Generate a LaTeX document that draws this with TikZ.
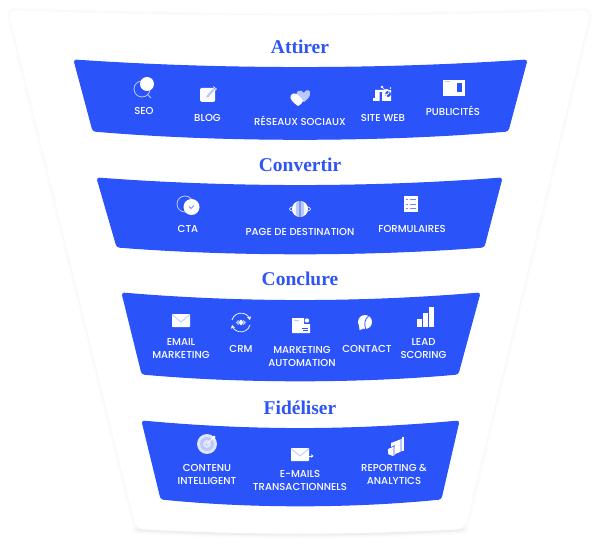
\documentclass[tikz,border=0pt]{standalone}
\usepackage{fontspec}
\usetikzlibrary{arrows.meta}
\setmainfont{Poppins Medium}
\newfontfamily\titlefont{Liberation Serif}
\definecolor{brand}{HTML}{2B53FA}
\definecolor{lightblue}{HTML}{B9C8FD}
\definecolor{titleblue}{HTML}{2F55F5}
\tikzset{
  band/.style={fill=brand,draw=brand,line width=1pt,line join=round,rounded corners=2.5pt},
  title/.style={font=\titlefont\bfseries\fontsize{19.5}{19.5}\selectfont,text=titleblue,inner sep=0pt,anchor=center},
  lab/.style={font=\fontsize{10.1}{13}\selectfont,text=white,inner sep=0pt,align=center,anchor=center},
  wf/.style={fill=white,draw=none},
  lf/.style={fill=lightblue,draw=none},
  wl/.style={draw=white,line width=.8pt,fill=none},
  ll/.style={draw=lightblue,line width=.8pt,fill=none},
  bl/.style={draw=brand,line width=.7pt,fill=none},
  bf/.style={fill=brand,draw=none}
}
\begin{document}
\begin{tikzpicture}[x=1pt,y=-1pt]
\useasboundingbox (0,0) rectangle (600,548);
% funnel card with faint shadow
\foreach \o/\w in {.006/6,.008/4,.01/2}{
 \draw[black,opacity=\o,line width=\w pt,line join=round,rounded corners=8pt]
  (8,10) .. controls (200,17) and (400,17) .. (591,10) -- (465,529) .. controls (355,535) and (245,535) .. (136,529) -- cycle;
}
\foreach \o/\w in {.012/8,.016/5,.02/2}{
 \draw[black,opacity=\o,line width=\w pt,line cap=round]
  (136,530) .. controls (245,536) and (355,536) .. (465,530);
}
\fill[white,rounded corners=8pt]
  (8,10) .. controls (200,17) and (400,17) .. (591,10) -- (465,529) .. controls (355,535) and (245,535) .. (136,529) -- cycle;
% bands
\draw[band] (74,60) .. controls (220,70) and (380,70) .. (527,60) -- (508,131) .. controls (380,142) and (220,142) .. (93,131) -- cycle;
\draw[band] (97,178) .. controls (230,188) and (370,188) .. (502,178) -- (484,247) .. controls (370,256) and (230,256) .. (117,247) -- cycle;
\draw[band] (122,293) .. controls (240,303) and (360,303) .. (480,293) -- (458,374) .. controls (360,383) and (240,383) .. (142,374) -- cycle;
\draw[band] (142,421) .. controls (250,431) and (350,431) .. (459,421) -- (441,499) .. controls (350,508) and (250,508) .. (161,499) -- cycle;
% titles
\node[title] (t1) at (300,47) {Attirer};
\node[title] (t2) at (300,165) {Convertir};
\node[title] (t3) at (300,279) {Conclure};
\node[title] (t4) at (300,408) {Fidéliser};
% labels
\node[lab] (seo) at (144,111) {SEO};
\node[lab] (blog) at (207.5,118) {BLOG};
\node[lab] (rs) at (300,121) {RÉSEAUX SOCIAUX};
\node[lab] (web) at (383,118) {SITE WEB};
\node[lab] (pub) at (453,111) {PUBLICITÉS};
\node[lab] (cta) at (188,229) {CTA};
\node[lab] (page) at (300,232) {PAGE DE DESTINATION};
\node[lab] (form) at (412,229) {FORMULAIRES};
\node[lab] (email) at (181,348.5) {EMAIL\\MARKETING};
\node[lab] (crm) at (241,349) {CRM};
\node[lab] (ma) at (302,356.5) {MARKETING\\AUTOMATION};
\node[lab] (contact) at (367,349) {CONTACT};
\node[lab] (lead) at (423.5,348.5) {LEAD\\SCORING};
\node[lab] (cont) at (207,474.5) {CONTENU\\INTELLIGENT};
\node[lab] (emt) at (300,480.5) {E-MAILS\\TRANSACTIONNELS};
\node[lab] (rep) at (394,474.5) {REPORTING \&\\ANALYTICS};
% SEO icon
\draw[ll] (142,89) circle (8);
\draw[ll] (148,95) -- (151,98);
\fill[white] (147,84) circle (7);
% Blog icon
\fill[wf,rounded corners=1.5pt] (200,88) rectangle (215,102);
\draw[lightblue,line width=2.2pt] (207,97) -- (214,89);
\draw[white,line width=.6pt] (213,86.5) -- (216.5,89) -- (214,91.5);
% Hearts icon
\fill[lf] (304,102) .. controls (297,97) and (295,93) .. (298,91) .. controls (300,89.5) and (303,91) .. (304,93) .. controls (305,90) and (309,89) .. (310,92) .. controls (311,96) and (307,100) .. (304,102) -- cycle;
\fill[wf] (298,106) .. controls (292,102) and (289,98) .. (291,95) .. controls (292,93) and (295,93) .. (296.5,94) .. controls (298,95) and (303,99) .. (303,101) .. controls (303,103) and (300,105) .. (298,106) -- cycle;
% Site web icon
\fill[wf] (375,101) -- (375,90) -- (391,90) -- (391,101) -- (382,101) -- (382,92) -- (379.5,92) -- (379.5,101) -- cycle;
\fill[wf] (373,98) rectangle (374.5,101);
\fill[bf] (388,94) circle (3);
\draw[wl] (386.5,92) circle (2.6);
\draw[wl,line width=.6pt] (385,90) -- (382,87) (386.5,94.6) -- (386.5,98);
\fill[white] (382,87) circle (1.3) (386.5,98) circle (1.3) (390.5,88) circle (.8);
% Publicites icon
\fill[wf] (443,80) rectangle (465,96);
\fill[bf] (457,83) rectangle (462,92);
\fill[lightblue] (445,81.5) rectangle (450,82.2);
% CTA icon
\draw[ll] (185,204) circle (8);
\fill[white] (191.5,207) circle (8);
\draw[bl,line cap=round] (189,206.5) -- (191,208.5) -- (194,205.5);
% Page de destination icon
\draw[wl,line width=.6pt] (300,209) ellipse (10.5 and 3.2);
\fill[wf] (300,209) circle (8);
\fill[lightblue] (297,201.8) .. controls (295,205) and (295,213) .. (297,216.2) -- (303,216.2) .. controls (305,213) and (305,205) .. (303,201.8) -- cycle;
\fill[brand!60!white] (299.3,201.2) rectangle (300.7,216.8);
% Formulaires icon
\fill[wf] (404,196) rectangle (418,212);
\foreach \yy in {199.5,204,208.5}{
  \draw[brand!70!white,line width=.4pt] (406,\yy) -- (408,\yy) (409.5,\yy) -- (416,\yy);
}
% Email icon
\fill[wf,rounded corners=.6pt] (172,314) rectangle (190,327);
\draw[lightblue,line width=.8pt] (172,314.5) -- (181,322) -- (190,314.5);
% CRM icon
\draw[wl,line width=.7pt,-{Stealth[length=3.5pt,width=4pt]}] (232,320) arc[start angle=195,end angle=345,radius=9.3];
\draw[wl,line width=.7pt,-{Stealth[length=3.5pt,width=4pt]}] (250,325) arc[start angle=15,end angle=165,radius=9.3];
\fill[wf] (241,319.5) -- (243.5,322.5) -- (241,325.5) -- (238.5,322.5) -- cycle;
\fill[lightblue] (236,322.5) -- (238.3,320) -- (239.3,320.8) -- (237.8,322.5) -- (239.3,324.2) -- (238.3,325) -- cycle;
\fill[lightblue] (246,322.5) -- (243.7,320) -- (242.7,320.8) -- (244.2,322.5) -- (242.7,324.2) -- (243.7,325) -- cycle;
% Marketing automation icon
\fill[wf] (292,318) -- (304,318) -- (304,324) -- (310,324) -- (310,333) -- (292,333) -- cycle;
\fill[white] (307,320.5) circle (2.2);
\fill[bf] (302,328) rectangle (308,329);
\fill[bf] (303,330.3) rectangle (308,331.3);
\fill[lightblue] (294,320) rectangle (299,320.7);
% Contact icon
\fill[wf] (365,322) circle (7);
\fill[wf] (359,325) -- (363,329) -- (359.5,330) -- cycle;
\draw[brand,line width=.8pt] (368.5,316) .. controls (365,319) and (364,323) .. (365.5,328.8);
% Lead scoring icon
\fill[wf] (417,319) rectangle (422,327);
\fill[wf] (423,312.5) rectangle (428,327);
\fill[wf] (429,307) rectangle (433.5,327);
% Contenu icon
\fill[lightblue!45!white] (207,444) circle (10);
\fill[lightblue] (207,444) circle (7);
\fill[lightblue!45!white] (207,444) circle (4);
\fill[lightblue] (207,444) circle (1.6);
\draw[white,line width=.9pt] (207,444) -- (213,438);
\fill[white] (211.5,438) -- (214,435.5) -- (215.5,437) -- (213.5,439.5) -- cycle;
% E-mails icon
\fill[wf,rounded corners=.6pt] (291,448) rectangle (309,461);
\draw[lightblue,line width=.8pt] (291,448.5) -- (300,456) -- (309,448.5);
\draw[wl,line width=.7pt,-{Stealth[length=2.5pt,width=3.5pt]}] (308,456) -- (313.5,456);
% Reporting icon
\fill[wf] (388,449) -- (393,447) -- (393,456) -- (388,454) -- cycle;
\fill[lightblue] (393,447) -- (395,446) -- (395,455) -- (393,456) -- cycle;
\fill[wf] (395,441.5) -- (400,439.5) -- (400,452) -- (395,454) -- cycle;
\fill[wf] (391,443) -- (395,441.5) -- (395,445) -- (391,447) -- cycle;
\fill[lightblue] (400,439.5) -- (402,438.5) -- (402,451) -- (400,452) -- cycle;
\fill[wf] (402,437) -- (403.5,437) -- (403.5,451) -- (402,451) -- cycle;
\end{tikzpicture}
\end{document}
